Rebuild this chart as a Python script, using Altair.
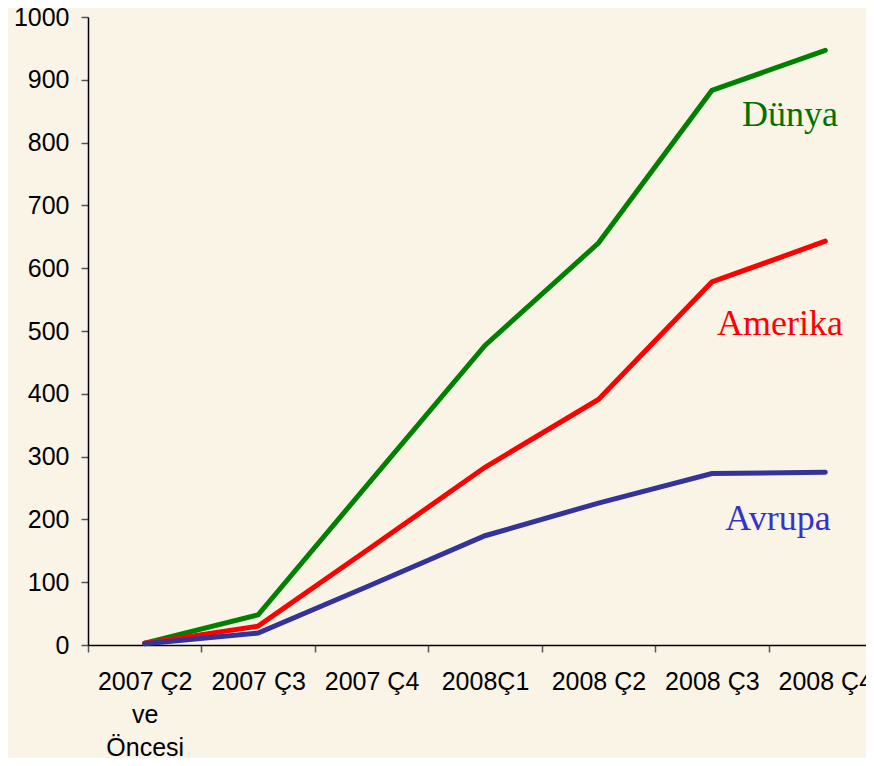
import altair as alt
import pandas as pd

categories = ["2007 Ç2|ve|Öncesi", "2007 Ç3", "2007 Ç4", "2008Ç1", "2008 Ç2", "2008 Ç3", "2008 Ç4"]
dunya = [3, 48, 263, 477, 640, 883, 947]
amerika = [3, 30, 156, 283, 391, 578, 643]
avrupa = [2, 19, 96, 174, 226, 273, 275]
series_names = ["Dünya", "Amerika", "Avrupa"]
y_ticks = list(range(0, 1001, 100))

rows = []
for name, vals in zip(series_names, [dunya, amerika, avrupa]):
    for c, v in zip(categories, vals):
        rows.append({"cat": c, "value": v, "series": name})
df = pd.DataFrame(rows)

line_colors = {"Dünya": "#008000", "Amerika": "#FF0000", "Avrupa": "#333399"}
text_colors = {"Dünya": "#007000", "Amerika": "#FF0000", "Avrupa": "#3333CC"}
text_pos = {"Dünya": (702, 109), "Amerika": (692, 318), "Avrupa": (690, 513)}

x_enc = alt.X(
    "cat:N",
    sort=categories,
    bandPosition=0.5,
    scale=alt.Scale(type="band", paddingInner=0, paddingOuter=0, domain=categories, range=[0, 794]),
    axis=alt.Axis(
        title=None,
        labelAngle=0,
        labelExpr="split(datum.label, '|')",
        labelLineHeight=33,
        labelBaseline="top",
        tickBand="extent",
        tickSize=7,
        labelPadding=17,
        labelFont="Liberation Sans",
        labelFontSize=25,
        labelColor="#000000",
        labelOverlap=False,
        domainColor="#000000",
        domainWidth=1.5,
        tickColor="#555555",
        tickWidth=1.5,
    ),
)
y_enc = alt.Y(
    "value:Q",
    scale=alt.Scale(domain=[0, 1000], nice=False, zero=True),
    axis=alt.Axis(
        title=None,
        values=y_ticks,
        format="d",
        grid=False,
        tickSize=7,
        labelPadding=12,
        labelFont="Liberation Sans",
        labelFontSize=25,
        labelColor="#000000",
        domainColor="#000000",
        domainWidth=1.5,
        tickColor="#555555",
        tickWidth=1.5,
    ),
)

layers = []
for name in series_names:
    layers.append(
        alt.Chart(df)
        .transform_filter(alt.datum.series == name)
        .mark_line(color=line_colors[name], strokeWidth=5, strokeCap="round", strokeJoin="miter")
        .encode(x=x_enc, y=y_enc)
    )

for name in series_names:
    px, py = text_pos[name]
    layers.append(
        alt.Chart(pd.DataFrame({"label": [name]}))
        .mark_text(
            font="Liberation Serif",
            fontSize=36,
            color=text_colors[name],
            align="center",
            baseline="alphabetic",
        )
        .encode(x=alt.value(px), y=alt.value(py), text=alt.Text("label:N"))
    )

chart = (
    alt.layer(*layers)
    .properties(
        width=778,
        height=628,
        background="#FAF4E7",
        autosize=alt.AutoSizeParams(type="none"),
        padding={"left": 80, "top": 9, "right": 0, "bottom": 113},
    )
    .configure_view(stroke=None)
)

chart.save("out.html", embed_options={"renderer": "svg", "actions": False})
